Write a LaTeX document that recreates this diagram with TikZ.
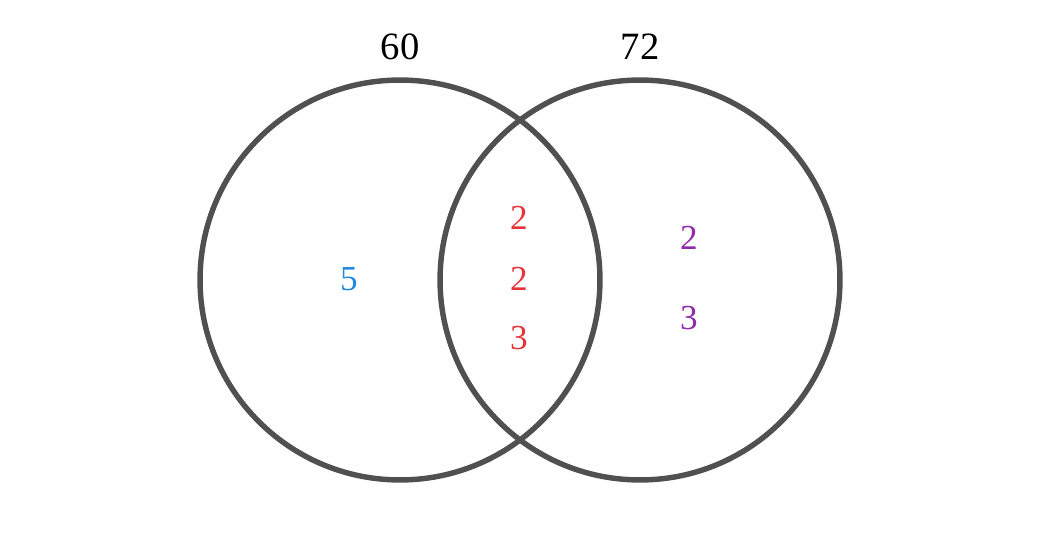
\documentclass[tikz,border=0pt]{standalone}
\usepackage{fontspec}
\setmainfont{Liberation Serif}
\usetikzlibrary{positioning}
\definecolor{ringgray}{HTML}{505050}
\definecolor{numblue}{HTML}{2288E0}
\definecolor{numred}{HTML}{E8333A}
\definecolor{numpurple}{HTML}{8E2BA8}
\tikzset{
  ring/.style={draw=ringgray,line width=3.1pt,circle,minimum size=8cm,inner sep=0pt},
  num/.style={font=\fontsize{20}{20}\selectfont,inner sep=0pt},
  total/.style={font=\fontsize{22}{22}\selectfont,inner sep=0pt}
}
\begin{document}
\begin{tikzpicture}[x=0.02cm,y=-0.02cm]
    \useasboundingbox (0,0) rectangle (1040,560);

    % Sets
    \node[ring] (setA) at (400,280) {};
    \node[ring] (setB) at (640,280) {};

    % Totals
    \node[total] (totA) at (400,47) {60};
    \node[total] (totB) at (640,47) {72};

    % Factors
    \node[num,text=numblue] (onlyA) at (349,279) {5};
    \node[num,text=numred] (both1) at (519,218) {2};
    \node[num,text=numred] (both2) at (519,279) {2};
    \node[num,text=numred] (both3) at (519,338) {3};
    \node[num,text=numpurple] (onlyB1) at (689,238) {2};
    \node[num,text=numpurple] (onlyB2) at (689,318) {3};
\end{tikzpicture}
\end{document}
